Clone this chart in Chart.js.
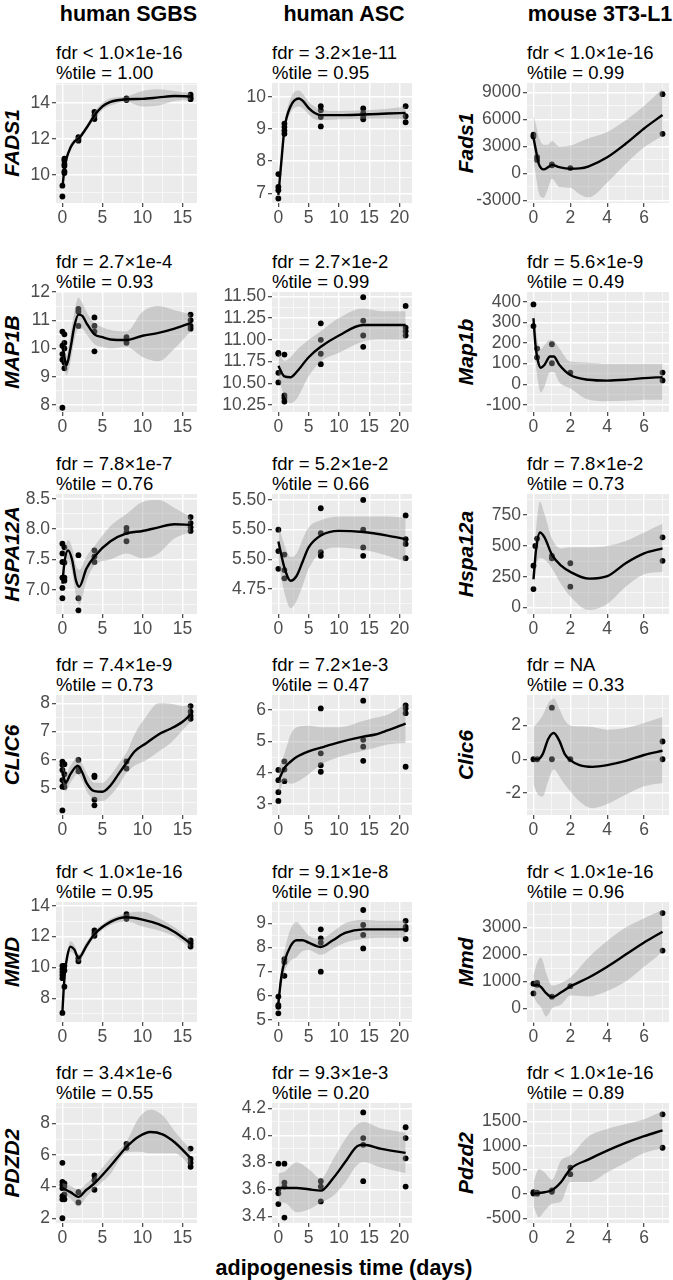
<!DOCTYPE html>
<html>
<head>
<meta charset="utf-8">
<script src="https://cdn.jsdelivr.net/npm/chart.js@4.4.0/dist/chart.umd.min.js"></script>
<style>
  body { margin: 0; background: #fff; }
  #fig { position: relative; width: 673px; height: 1280px; overflow: hidden;
         font-family: 'Liberation Sans', Arial, sans-serif; color: #000; }
  .col-title { position: absolute; top: 2px; font-size: 21.5px; line-height: 24px; font-weight: bold;
               transform: translateX(-50%); white-space: nowrap; }
  .stats { position: absolute; font-size: 18.5px; line-height: 20px; white-space: nowrap; }
  .gene { position: absolute; font-size: 21px; font-weight: bold; font-style: italic; white-space: nowrap;
          transform: translate(-50%, -50%) rotate(-90deg); }
  .x-title { position: absolute; font-size: 21.5px; font-weight: bold; white-space: nowrap;
             transform: translate(-50%, -50%); }
  canvas { position: absolute; }
</style>
</head>
<body>
<div id="fig"></div>
<script>
// column headers and gene names
const cellTypes = ["human SGBS", "human ASC", "mouse 3T3-L1"];
const humanGenes = ["FADS1", "MAP1B", "HSPA12A", "CLIC6", "MMD", "PDZD2"];
const mouseGenes = ["Fads1", "Map1b", "Hspa12a", "Clic6", "Mmd", "Pdzd2"];
const xTitle = "adipogenesis time (days)";

// stats lines, one row per gene, one entry per cell type
const fdrText = [
  ["fdr < 1.0×1e-16", "fdr = 3.2×1e-11", "fdr < 1.0×1e-16"],
  ["fdr = 2.7×1e-4", "fdr = 2.7×1e-2", "fdr = 5.6×1e-9"],
  ["fdr = 7.8×1e-7", "fdr = 5.2×1e-2", "fdr = 7.8×1e-2"],
  ["fdr = 7.4×1e-9", "fdr = 7.2×1e-3", "fdr = NA"],
  ["fdr < 1.0×1e-16", "fdr = 9.1×1e-8", "fdr < 1.0×1e-16"],
  ["fdr = 3.4×1e-6", "fdr = 9.3×1e-3", "fdr < 1.0×1e-16"]
];
const tileText = [
  ["%tile = 1.00", "%tile = 0.95", "%tile = 0.99"],
  ["%tile = 0.93", "%tile = 0.99", "%tile = 0.49"],
  ["%tile = 0.76", "%tile = 0.66", "%tile = 0.73"],
  ["%tile = 0.73", "%tile = 0.47", "%tile = 0.33"],
  ["%tile = 0.95", "%tile = 0.90", "%tile = 0.96"],
  ["%tile = 0.55", "%tile = 0.20", "%tile = 0.89"]
];

// x axes (days)
const sgbsDays = [0, 5, 10, 15];
const ascDays = [0, 5, 10, 15, 20];
const mouseDays = [0, 2, 4, 6];
const xLims = [[-0.8, 16.8], [-1.05, 22.05], [-0.35, 7.35]];

// y axes per column, rows in gene order
const sgbsYTicks = [[10, 12, 14], [8, 9, 10, 11, 12], [7, 7.5, 8, 8.5], [5, 6, 7, 8], [8, 10, 12, 14], [2, 4, 6, 8]];
const sgbsYLabels = [["10", "12", "14"], ["8", "9", "10", "11", "12"], ["7.0", "7.5", "8.0", "8.5"],
  ["5", "6", "7", "8"], ["8", "10", "12", "14"], ["2", "4", "6", "8"]];
const sgbsYLims = [[8.44, 15.1], [7.75, 12.0], [6.6, 8.58], [4.06, 8.29], [6.46, 14.24], [1.7, 9.28]];

const ascYTicks = [[7, 8, 9, 10], [10.25, 10.5, 10.75, 11, 11.25, 11.5], [4.75, 5, 5.25, 5.5],
  [3, 4, 5, 6], [5, 6, 7, 8, 9], [3.4, 3.6, 3.8, 4.0, 4.2]];
const ascYLabels = [["7", "8", "9", "10"], ["10.25", "10.50", "11.75", "11.00", "11.25", "11.50"],
  ["4.75", "5.50", "5.50", "5.50"], ["3", "4", "5", "6"], ["5", "6", "7", "8", "9"],
  ["3.4", "3.6", "3.8", "4.0", "4.2"]];
const ascYLims = [[6.7, 10.43], [10.17, 11.55], [4.54, 5.55], [2.65, 6.48], [4.92, 9.88], [3.35, 4.24]];

const mouseYTicks = [[-3000, 0, 3000, 6000, 9000], [-100, 0, 100, 200, 300, 400], [0, 250, 500, 750],
  [-2, 0, 2], [0, 1000, 2000, 3000], [-500, 0, 500, 1000, 1500]];
const mouseYLabels = [["-3000", "0", "3000", "6000", "9000"], ["-100", "0", "100", "200", "300", "400"],
  ["0", "250", "500", "750"], ["-2", "0", "2"], ["0", "1000", "2000", "3000"],
  ["-500", "0", "500", "1000", "1500"]];
const mouseYLims = [[-3280, 10045], [-134, 447], [-52, 922], [-3.3, 3.8], [-500, 3950], [-597, 1886]];

// measured samples [day, expression]
const sgbsFads1Pts = [[0, 8.8], [0, 9.4], [0.25, 10.1], [0.25, 10.2], [0.25, 10.5], [0.25, 10.6], [0.25, 10.8],
  [0.25, 10.9], [2, 11.9], [2, 12.0], [2, 12.1], [4, 13.1], [4, 13.3], [4, 13.5], [8, 14.15], [8, 14.25],
  [16, 14.2], [16, 14.3], [16, 14.45]];
const ascFads1Pts = [[0, 7.6], [0, 7.2], [0, 7.1], [0, 6.84], [1, 8.85], [1, 8.95], [1, 9.06], [1, 9.17],
  [7, 9.71], [7, 9.58], [7, 9.37], [7, 9.08], [14, 9.64], [14, 9.5], [14, 9.37], [14, 9.3],
  [21, 9.71], [21, 9.4], [21, 9.21]];
const mouseFads1Pts = [[0, 4300], [0, 4100], [0.2, 1800], [0.2, 1500], [1, 1000], [1, 900], [2, 600],
  [7, 8800], [7, 4400]];

const sgbsMap1bPts = [[0, 10.6], [0, 10.1], [0, 9.8], [0, 9.6], [0, 7.9], [0.25, 10.5], [0.25, 10.2],
  [0.25, 10.0], [0.25, 9.5], [0.25, 9.3], [2, 11.4], [2, 11.3], [2, 10.8], [4, 11.1], [4, 10.8], [4, 10.6],
  [4, 9.9], [8, 10.4], [8, 10.3], [8, 10.2], [16, 11.2], [16, 11.0], [16, 10.8], [16, 10.7]];
const ascMap1bPts = [[0, 10.85], [0, 10.84], [0, 10.62], [0, 10.51], [1, 10.83], [1, 10.36], [1, 10.33],
  [1, 10.29], [7, 11.19], [7, 11.0], [7, 10.84], [7, 10.72], [14, 11.49], [14, 11.22], [14, 11.05],
  [14, 10.92], [21, 11.39], [21, 11.14], [21, 11.1], [21, 11.05]];
const mouseMap1bPts = [[0, 387], [0, 282], [0.2, 173], [0.2, 130], [1, 194], [1, 102], [2, 57], [7, 57], [7, 19]];

const sgbsHspa12aPts = [[0, 7.76], [0, 7.6], [0, 7.46], [0, 7.2], [0, 7.03], [0, 6.86], [0.25, 7.7],
  [0.25, 7.45], [0.25, 7.2], [0.25, 7.15], [2, 7.57], [2, 6.86], [2, 6.66], [4, 7.65], [4, 7.55], [4, 7.46],
  [8, 8.02], [8, 7.95], [8, 7.8], [16, 8.2], [16, 8.1], [16, 8.03], [16, 7.97]];
const ascHspa12aPts = [[0, 5.25], [0, 5.07], [0, 4.92], [1, 5.04], [1, 4.91], [1, 4.84], [7, 5.43], [7, 5.22],
  [7, 5.06], [7, 5.03], [14, 5.5], [14, 5.25], [14, 5.1], [14, 5.03], [21, 5.37], [21, 5.17], [21, 5.13],
  [21, 5.01]];
const mouseHspa12aPts = [[0, 340], [0, 150], [0.1, 500], [0.2, 560], [1, 420], [1, 400], [2, 360], [2, 170],
  [7, 570], [7, 380]];

const sgbsClic6Pts = [[0, 5.94], [0, 5.83], [0, 5.65], [0, 5.29], [0, 5.06], [0, 4.22], [0.25, 5.85],
  [0.25, 5.5], [0.25, 5.2], [0.25, 5.05], [2, 6.0], [2, 5.7], [2, 5.6], [4, 5.45], [4, 5.4], [4, 4.6],
  [4, 4.4], [8, 5.95], [8, 5.7], [16, 7.9], [16, 7.7], [16, 7.55], [16, 7.45]];
const ascClic6Pts = [[0, 4.09], [0, 3.76], [0, 3.38], [0, 3.1], [1, 4.36], [1, 4.1], [1, 3.73], [7, 6.05],
  [7, 4.62], [7, 4.24], [7, 4.03], [14, 6.3], [14, 5.05], [14, 4.83], [14, 4.38], [21, 6.15], [21, 6.05],
  [21, 5.9], [21, 4.19]];
const mouseClic6Pts = [[0, 0], [0.2, 0], [1, 3.05], [1, 0], [2, 0], [7, 1.05], [7, 0]];

const sgbsMmdPts = [[0, 10.1], [0, 9.9], [0, 9.7], [0, 9.5], [0, 9.3], [0, 7.05], [0.25, 10.1], [0.25, 9.8],
  [0.25, 8.75], [2, 10.6], [2, 10.4], [4, 12.4], [4, 12.2], [4, 12.05], [8, 13.45], [8, 13.3], [8, 13.15],
  [16, 11.75], [16, 11.55], [16, 11.35]];
const ascMmdPts = [[0, 5.97], [0, 5.62], [0, 5.55], [0, 5.28], [1, 7.52], [1, 7.4], [1, 6.83], [7, 8.75],
  [7, 8.38], [7, 8.2], [7, 7.0], [14, 9.55], [14, 8.93], [14, 8.52], [14, 7.96], [21, 9.1], [21, 8.85],
  [21, 8.75], [21, 8.35]];
const mouseMmdPts = [[0, 920], [0, 560], [0.2, 880], [0.2, 950], [1, 440], [2, 830], [7, 3540], [7, 2150]];

const sgbsPdzd2Pts = [[0, 5.5], [0, 4.3], [0, 4.1], [0, 3.9], [0, 3.4], [0, 3.2], [0, 2.0], [0.25, 4.2],
  [0.25, 4.0], [0.25, 3.5], [0.25, 3.2], [2, 3.65], [2, 3.0], [4, 4.7], [4, 4.4], [4, 3.8], [8, 6.7],
  [8, 6.45], [16, 6.4], [16, 5.75], [16, 5.5], [16, 5.25]];
const ascPdzd2Pts = [[0, 3.79], [0, 3.6], [0, 3.57], [0, 3.49], [1, 3.79], [1, 3.65], [1, 3.62], [1, 3.39],
  [7, 3.66], [7, 3.62], [7, 3.51], [14, 4.17], [14, 3.98], [14, 3.93], [14, 3.66], [21, 4.06], [21, 3.98],
  [21, 3.83], [21, 3.62]];
const mousePdzd2Pts = [[0, 40], [0, 12], [0.2, 30], [0.2, 10], [1, 80], [1, 50], [2, 550], [2, 413],
  [7, 1652], [7, 960]];

// smoothed fit: [day, fit, lower band, upper band]
const sgbsFads1Fit = [[0, 9.3, 9.0, 9.6], [0.25, 10.3, 10.1, 10.5], [0.5, 10.9, 10.7, 11.1],
  [1, 11.5, 11.3, 11.7], [1.5, 11.85, 11.7, 12.0], [2, 12.0, 11.85, 12.15], [3, 12.6, 12.45, 12.75],
  [4, 13.3, 13.1, 13.5], [5, 13.8, 13.6, 14.0], [6, 14.05, 13.85, 14.25], [8, 14.2, 14.05, 14.35],
  [10, 14.22, 13.8, 14.65], [12, 14.3, 13.85, 14.75], [14, 14.38, 14.1, 14.65], [16, 14.35, 14.15, 14.55]];
const ascFads1Fit = [[0, 6.95, 6.7, 7.2], [0.5, 8.0, 7.8, 8.2], [1, 9.0, 8.85, 9.15], [2, 9.7, 9.5, 9.95],
  [3.4, 9.95, 9.7, 10.2], [4, 9.88, 9.65, 10.1], [5, 9.65, 9.45, 9.85], [6, 9.5, 9.3, 9.7],
  [7, 9.43, 9.27, 9.6], [10, 9.43, 9.3, 9.56], [14, 9.45, 9.32, 9.58], [18, 9.48, 9.33, 9.63],
  [21, 9.5, 9.3, 9.7]];
const mouseFads1Fit = [[0, 4000, 1500, 6500], [0.15, 2400, -500, 5300], [0.3, 1000, -2200, 4000],
  [0.55, 450, -2700, 3200], [0.8, 700, -1600, 3200], [1, 950, -600, 3600], [1.4, 700, -1500, 3000],
  [2, 520, -1600, 3100], [2.5, 560, -2300, 3500], [3, 800, -2650, 3900], [4, 1800, -1000, 4600],
  [5, 3300, 1050, 5900], [6, 5000, 2900, 7500], [7, 6500, 4200, 9400]];

const sgbsMap1bFit = [[0, 10.2, 9.8, 10.6], [0.25, 9.7, 9.35, 10.05], [0.5, 9.4, 9.05, 9.75],
  [1, 10.0, 9.5, 10.5], [1.5, 10.8, 10.3, 11.3], [2, 11.2, 10.7, 11.8], [2.5, 11.15, 10.7, 11.6],
  [3, 10.9, 10.5, 11.3], [4, 10.5, 10.15, 10.9], [5, 10.4, 10.05, 10.75], [6, 10.32, 10.0, 10.65],
  [8, 10.3, 10.05, 10.6], [10, 10.45, 9.7, 11.3], [12, 10.55, 9.55, 11.5], [14, 10.7, 10.0, 11.35],
  [16, 10.9, 10.6, 11.2]];
const ascMap1bFit = [[0, 10.7, 10.55, 10.86], [1, 10.58, 10.36, 10.76], [2, 10.57, 10.27, 10.8],
  [3, 10.63, 10.32, 10.88], [5, 10.8, 10.58, 11.0], [7, 10.92, 10.75, 11.1], [10, 11.05, 10.85, 11.25],
  [14, 11.17, 10.98, 11.36], [17, 11.17, 11.0, 11.33], [21, 11.17, 11.0, 11.33]];
const mouseMap1bFit = [[0, 320, 240, 410], [0.1, 200, 120, 290], [0.25, 110, 10, 200], [0.4, 80, -40, 170],
  [0.6, 95, -10, 190], [0.9, 135, 60, 215], [1.1, 135, 60, 210], [1.4, 95, 10, 175], [2, 45, -20, 110],
  [3, 22, -75, 105], [4, 18, -82, 100], [5, 22, -80, 100], [6, 30, -75, 100], [7, 35, -75, 100]];

const sgbsHspa12aFit = [[0, 7.1, 6.95, 7.25], [0.25, 7.45, 7.3, 7.6], [0.7, 7.65, 7.48, 7.82],
  [1.2, 7.5, 7.3, 7.7], [1.7, 7.15, 6.9, 7.4], [2.1, 7.05, 6.75, 7.33], [3, 7.35, 7.15, 7.55],
  [4, 7.55, 7.4, 7.72], [6, 7.8, 7.5, 8.05], [8, 7.93, 7.6, 8.25], [10, 7.97, 7.52, 8.45],
  [12, 8.03, 7.6, 8.48], [14, 8.08, 7.85, 8.35], [16, 8.07, 7.95, 8.2]];
const ascHspa12aFit = [[0, 5.15, 4.98, 5.3], [1, 4.93, 4.72, 5.12], [2, 4.82, 4.59, 5.02],
  [3, 4.86, 4.65, 5.05], [4, 4.98, 4.78, 5.17], [5, 5.1, 4.92, 5.27], [7, 5.2, 5.06, 5.33],
  [10, 5.24, 5.1, 5.36], [14, 5.23, 5.08, 5.36], [18, 5.2, 5.03, 5.36], [21, 5.17, 4.98, 5.35]];
const mouseHspa12aFit = [[0, 230, 120, 340], [0.15, 480, 330, 650], [0.35, 610, 400, 860],
  [0.6, 570, 390, 760], [1, 430, 320, 560], [1.5, 340, 190, 480], [2, 290, 90, 490], [3, 235, -20, 490],
  [4, 255, 30, 500], [5, 360, 170, 540], [6, 440, 270, 610], [7, 480, 290, 680]];

const sgbsClic6Fit = [[0, 5.6, 5.25, 5.95], [0.4, 5.2, 4.9, 5.5], [1, 5.5, 5.2, 5.8], [1.9, 5.8, 5.5, 6.1],
  [2.5, 5.55, 5.25, 5.85], [3, 5.2, 4.9, 5.55], [4, 4.9, 4.6, 5.2], [5, 4.88, 4.55, 5.2],
  [6, 5.1, 4.75, 5.45], [7, 5.5, 5.1, 5.85], [8, 5.9, 5.55, 6.25], [9, 6.3, 5.8, 6.9],
  [10.5, 6.6, 6.0, 7.55], [12, 6.9, 6.3, 8.0], [13.5, 7.1, 6.6, 7.98], [15, 7.35, 7.05, 7.9],
  [16, 7.6, 7.35, 7.95]];
const ascClic6Fit = [[0, 3.75, 3.3, 4.15], [0.5, 3.95, 3.55, 4.35], [1, 4.15, 3.75, 4.6],
  [2, 4.35, 3.65, 5.2], [3, 4.5, 3.7, 5.45], [5, 4.68, 3.95, 5.5], [7, 4.8, 4.25, 5.45],
  [10, 4.97, 4.5, 5.45], [14, 5.15, 4.7, 5.65], [16, 5.22, 4.8, 5.75], [18, 5.35, 4.9, 5.85],
  [21, 5.57, 4.95, 6.2]];
const mouseClic6Fit = [[0, 0, -1.5, 1.9], [0.25, 0, -2.1, 2.2], [0.5, 0.3, -2.2, 2.6], [0.8, 1.2, -1.3, 3.3],
  [1.1, 1.55, -0.6, 3.6], [1.4, 1.1, -1.0, 3.0], [1.7, 0.3, -1.5, 2.3], [2, -0.05, -1.9, 2.0],
  [2.5, -0.35, -2.5, 1.95], [3.2, -0.45, -2.9, 1.9], [4, -0.35, -2.65, 1.75], [5, -0.1, -2.1, 1.85],
  [6, 0.25, -1.6, 2.15], [7, 0.5, -1.4, 2.5]];

const sgbsMmdFit = [[0, 7.1, 6.8, 7.4], [0.15, 8.5, 8.2, 8.8], [0.3, 9.6, 9.3, 9.9], [0.6, 10.7, 10.4, 11.0],
  [1, 11.35, 11.0, 11.7], [1.5, 11.15, 10.85, 11.45], [2, 10.6, 10.35, 10.85], [3, 11.4, 11.15, 11.65],
  [4, 12.15, 11.95, 12.35], [6, 12.95, 12.75, 13.15], [8, 13.25, 13.0, 13.5], [10, 13.1, 12.65, 13.6],
  [12, 12.8, 12.4, 13.2], [14, 12.3, 12.0, 12.6], [16, 11.55, 11.25, 11.85]];
const ascMmdFit = [[0, 5.7, 5.4, 6.0], [0.5, 6.8, 6.4, 7.2], [1, 7.4, 6.95, 7.85], [2, 8.05, 7.45, 8.75],
  [3, 8.3, 7.6, 9.05], [4, 8.3, 7.85, 8.8], [5, 8.2, 7.9, 8.5], [7, 8.02, 7.7, 8.35], [9, 8.3, 7.95, 8.65],
  [11, 8.6, 8.2, 9.0], [14, 8.75, 8.35, 9.15], [17, 8.75, 8.4, 9.1], [21, 8.75, 8.4, 9.1]];
const mouseMmdFit = [[0, 850, 450, 1250], [0.2, 880, 200, 1700], [0.4, 800, 50, 1900], [0.7, 560, -300, 1300],
  [1, 420, 0, 850], [1.5, 600, 150, 950], [2, 820, 480, 1150], [3, 1150, 450, 1900], [4, 1550, 650, 2500],
  [5, 2000, 1000, 3000], [6, 2450, 1550, 3350], [7, 2850, 2100, 3650]];

const sgbsPdzd2Fit = [[0, 3.9, 3.55, 4.25], [1, 3.65, 3.25, 4.05], [2, 3.35, 2.75, 3.8], [3, 3.8, 3.35, 4.2],
  [4, 4.2, 3.85, 4.6], [6, 5.3, 4.8, 5.8], [8, 6.5, 6.15, 6.85], [9.5, 7.15, 6.2, 8.3], [11, 7.45, 6.1, 8.85],
  [12.5, 7.3, 6.1, 8.5], [14, 6.8, 6.1, 7.5], [16, 5.8, 5.3, 6.35]];
const ascPdzd2Fit = [[0, 3.61, 3.5, 3.72], [1, 3.61, 3.5, 3.73], [3, 3.61, 3.43, 3.8], [5, 3.6, 3.45, 3.75],
  [7, 3.59, 3.5, 3.68], [9, 3.68, 3.55, 3.82], [11, 3.8, 3.65, 3.97], [13, 3.92, 3.78, 4.08],
  [14, 3.93, 3.8, 4.1], [17, 3.9, 3.76, 4.05], [21, 3.87, 3.72, 4.02]];
const mousePdzd2Fit = [[0, 10, -250, 250], [0.3, 25, -480, 520], [0.6, 40, -350, 450], [1, 80, -200, 300],
  [1.5, 250, -150, 700], [2, 520, 250, 800], [3, 720, 250, 1200], [4, 900, 450, 1350], [5, 1060, 650, 1450],
  [6, 1200, 850, 1550], [7, 1320, 950, 1720]];

// ---- layout ----
const colLeft = [56, 272, 527];
const colRight = [201, 416, 673];
const rowLine1 = [53, 262, 464, 665, 872, 1073];
const geneX = [12, null, 465.5];
const axisW = 56, padTop = 10, axisH = 26;

const fig = document.getElementById("fig");

const sgbsPts = [sgbsFads1Pts, sgbsMap1bPts, sgbsHspa12aPts, sgbsClic6Pts, sgbsMmdPts, sgbsPdzd2Pts];
const ascPts = [ascFads1Pts, ascMap1bPts, ascHspa12aPts, ascClic6Pts, ascMmdPts, ascPdzd2Pts];
const mousePts = [mouseFads1Pts, mouseMap1bPts, mouseHspa12aPts, mouseClic6Pts, mouseMmdPts, mousePdzd2Pts];
const sgbsFit = [sgbsFads1Fit, sgbsMap1bFit, sgbsHspa12aFit, sgbsClic6Fit, sgbsMmdFit, sgbsPdzd2Fit];
const ascFit = [ascFads1Fit, ascMap1bFit, ascHspa12aFit, ascClic6Fit, ascMmdFit, ascPdzd2Fit];
const mouseFit = [mouseFads1Fit, mouseMap1bFit, mouseHspa12aFit, mouseClic6Fit, mouseMmdFit, mousePdzd2Fit];

const columns = [
  { pts: sgbsPts, fit: sgbsFit, yTicks: sgbsYTicks, yLabels: sgbsYLabels, yLims: sgbsYLims, xTicks: sgbsDays, genes: humanGenes },
  { pts: ascPts, fit: ascFit, yTicks: ascYTicks, yLabels: ascYLabels, yLims: ascYLims, xTicks: ascDays, genes: null },
  { pts: mousePts, fit: mouseFit, yTicks: mouseYTicks, yLabels: mouseYLabels, yLims: mouseYLims, xTicks: mouseDays, genes: mouseGenes }
];

// grey panel like ggplot
const panelBg = {
  id: "panelBg",
  beforeDraw(chart) {
    const a = chart.chartArea;
    const ctx = chart.ctx;
    ctx.save();
    ctx.fillStyle = "#ebebeb";
    ctx.fillRect(a.left, a.top, a.right - a.left, a.bottom - a.top);
    ctx.restore();
  }
};

// major ticks plus minor ones halfway between
function buildTicks(majors, labels, lo, hi) {
  const d = majors[1] - majors[0];
  const out = majors.map((v, i) => ({ value: v, isMajor: true, text: labels[i] }));
  [majors[0] - d / 2, ...majors.map(v => v + d / 2)].forEach(v => {
    out.push({ value: v, isMajor: false, text: "" });
  });
  return out.filter(t => t.value >= lo && t.value <= hi).sort((a, b) => a.value - b.value);
}

function axisOpts(lims, majors, labels, isX) {
  return {
    type: "linear",
    position: isX ? "bottom" : "left",
    min: lims[0],
    max: lims[1],
    bounds: "data",
    afterBuildTicks: s => { s.ticks = buildTicks(majors, labels, lims[0], lims[1]); },
    afterFit: s => {
      if (isX) { s.height = axisH; s.paddingLeft = 0; s.paddingRight = 0; }
      else { s.width = axisW; s.paddingTop = 0; s.paddingBottom = 0; }
    },
    border: { display: false },
    grid: {
      color: "#ffffff",
      lineWidth: c => (c.tick && c.tick.isMajor ? 1.4 : 0.6),
      tickLength: 4,
      tickWidth: 1.1,
      tickColor: c => (c.tick && c.tick.isMajor ? "#333333" : "rgba(0,0,0,0)")
    },
    ticks: {
      autoSkip: false,
      maxRotation: 0,
      minRotation: 0,
      padding: isX ? 1 : 2,
      color: "#4d4d4d",
      font: { family: "'Liberation Sans', Arial, sans-serif", size: 17.5 },
      callback: (v, i, ticks) => ticks[i].text
    }
  };
}

function addText(cls, text, x, y) {
  const el = document.createElement("div");
  el.className = cls;
  el.textContent = text;
  el.style.left = x + "px";
  el.style.top = y + "px";
  fig.appendChild(el);
  return el;
}

cellTypes.forEach((name, c) => addText("col-title", name, (colLeft[c] + colRight[c]) / 2, 2));

columns.forEach((col, c) => {
  for (let r = 0; r < 6; r++) {
    const left = colLeft[c], right = colRight[c];
    const top = rowLine1[r] + 30, bottom = rowLine1[r] + 150;

    addText("stats", fdrText[r][c], left, rowLine1[r] - 10);
    addText("stats", tileText[r][c], left, rowLine1[r] + 10);
    if (col.genes) addText("gene", col.genes[r], geneX[c], (top + bottom) / 2);

    const w = right - left + axisW;
    const h = bottom - top + padTop + axisH;
    const cv = document.createElement("canvas");
    cv.width = w; cv.height = h;
    cv.style.width = w + "px"; cv.style.height = h + "px";
    cv.style.left = (left - axisW) + "px";
    cv.style.top = (top - padTop) + "px";
    fig.appendChild(cv);

    const pts = col.pts[r].map(p => ({ x: p[0], y: p[1] }));
    const fit = col.fit[r];
    const lower = fit.map(f => ({ x: f[0], y: f[2] }));
    const upper = fit.map(f => ({ x: f[0], y: f[3] }));
    const line = fit.map(f => ({ x: f[0], y: f[1] }));

    new Chart(cv, {
      type: "line",
      data: {
        datasets: [
          { data: pts, showLine: false, pointRadius: 2.9, pointBorderWidth: 0,
            pointBackgroundColor: "#000", clip: 6, order: 4 },
          { data: lower, borderWidth: 0, pointRadius: 0, fill: false,
            cubicInterpolationMode: "monotone", order: 3 },
          { data: upper, borderWidth: 0, pointRadius: 0, fill: "-1",
            backgroundColor: "rgba(153,153,153,0.4)", cubicInterpolationMode: "monotone", order: 2 },
          { data: line, borderColor: "#000", borderWidth: 2.4, pointRadius: 0, fill: false,
            cubicInterpolationMode: "monotone", order: 1 }
        ]
      },
      options: {
        responsive: false,
        animation: false,
        events: [],
        layout: { padding: { top: padTop, left: 0, right: 0, bottom: 0 } },
        plugins: { legend: { display: false }, tooltip: { enabled: false }, title: { display: false } },
        scales: {
          x: axisOpts(xLims[c], col.xTicks, col.xTicks.map(String), true),
          y: axisOpts(col.yLims[r], col.yTicks[r], col.yLabels[r], false)
        }
      },
      plugins: [panelBg]
    });
  }
});

addText("x-title", xTitle, 344, 1268);
</script>
</body>
</html>
